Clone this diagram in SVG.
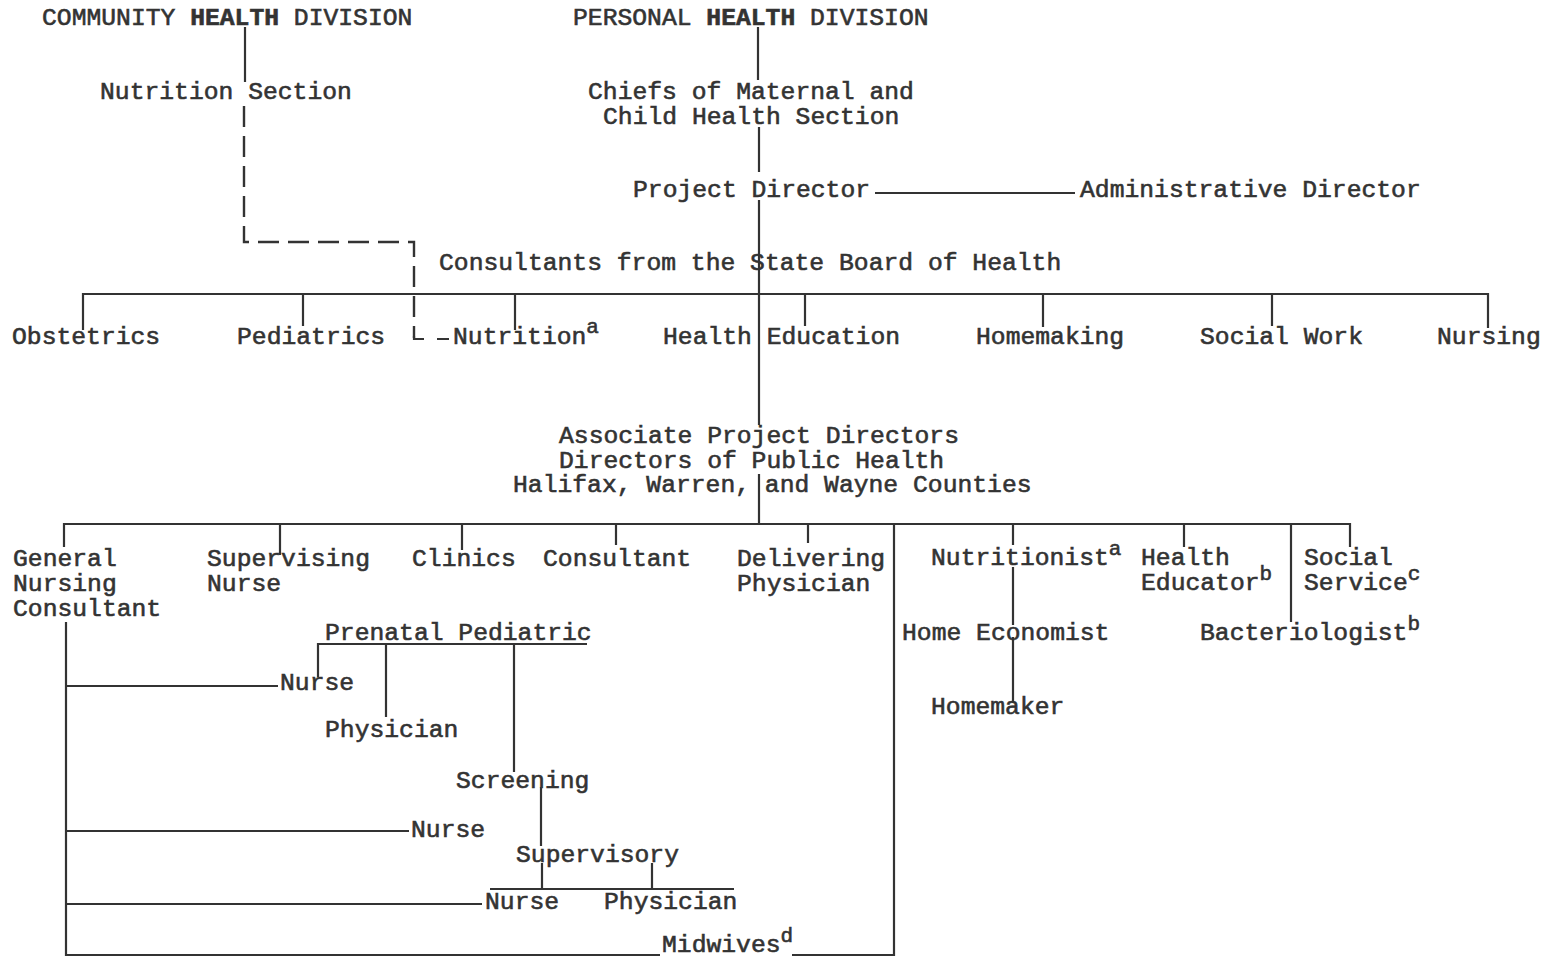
<svg xmlns="http://www.w3.org/2000/svg" width="1549" height="958" viewBox="0 0 1549 958">
<style>
.t{font-family:"Liberation Mono","Courier New",monospace;font-size:24.7px;fill:#333;stroke:#333;stroke-width:0.6}
.b{font-weight:bold}
.s{font-size:21px}
.c{stroke:#333;stroke-width:2.2;fill:none}
.d{stroke:#333;stroke-width:2.4;fill:none;stroke-dasharray:21 9}
</style>
<rect width="1549" height="958" fill="#fff"/>
<g id="connectors">
<path class="c" d="M245,27V82"/>
<path class="d" d="M244,106V242H414V338"/>
<path class="c" d="M414,336V339H424M437,339H449"/>
<path class="c" d="M758,27V80M759,127V172M759,200V425M759,474V524M875,193H1075"/>
<path class="c" d="M83,330V294H1488V328M303,294V326M515,294V330M805,294V326M1043,294V327M1272,294V326"/>
<path class="c" d="M64,547V524H1350V547M280,524V555M462,524V550M616,524V545M808,524V543M1013,524V545M1184,524V547M1291,524V622"/>
<path class="c" d="M894,524V955H792M660,955H66V622"/>
<path class="c" d="M1013,567V625M1013,637V703"/>
<path class="c" d="M66,686H278M66,831H409M66,904H482"/>
<path class="c" d="M318,677V644H587M386,644V717M514,644V772M541,787V846M542,863V889M652,863V889M490,889H734"/>
</g>
<g id="community-health-division"><text class="t" x="42" y="25">COMMUNITY <tspan class="b">HEALTH</tspan> DIVISION</text></g>
<g id="nutrition-section"><text class="t" x="100" y="99">Nutrition Section</text></g>
<g id="personal-health-division"><text class="t" x="573" y="25">PERSONAL <tspan class="b">HEALTH</tspan> DIVISION</text></g>
<g id="chiefs"><text class="t" x="588" y="99">Chiefs of Maternal and</text><text class="t" x="603" y="124">Child Health Section</text></g>
<g id="project-director"><text class="t" x="633" y="197">Project Director</text></g>
<g id="administrative-director"><text class="t" x="1080" y="197">Administrative Director</text></g>
<g id="consultants"><text class="t" x="439" y="270">Consultants from the State Board of Health</text></g>
<g id="obstetrics"><text class="t" x="12" y="344">Obstetrics</text></g>
<g id="pediatrics"><text class="t" x="237" y="344">Pediatrics</text></g>
<g id="nutrition"><text class="t" x="453" y="344">Nutrition<tspan class="s" dy="-11">a</tspan></text></g>
<g id="health-education"><text class="t" x="663" y="344">Health Education</text></g>
<g id="homemaking"><text class="t" x="976" y="344">Homemaking</text></g>
<g id="social-work"><text class="t" x="1200" y="344">Social Work</text></g>
<g id="nursing"><text class="t" x="1437" y="344">Nursing</text></g>
<g id="associate-project-directors"><text class="t" x="559" y="443">Associate Project Directors</text><text class="t" x="559" y="468">Directors of Public Health</text><text class="t" x="513" y="492">Halifax, Warren, and Wayne Counties</text></g>
<g id="general-nursing-consultant"><text class="t" x="13" y="566">General</text><text class="t" x="13" y="591">Nursing</text><text class="t" x="13" y="616">Consultant</text></g>
<g id="supervising-nurse"><text class="t" x="207" y="566">Supervising</text><text class="t" x="207" y="591">Nurse</text></g>
<g id="clinics"><text class="t" x="412" y="566">Clinics</text></g>
<g id="consultant"><text class="t" x="543" y="566">Consultant</text></g>
<g id="delivering-physician"><text class="t" x="737" y="566">Delivering</text><text class="t" x="737" y="591">Physician</text></g>
<g id="nutritionist"><text class="t" x="931" y="565">Nutritionist<tspan class="s" dy="-10">a</tspan></text></g>
<g id="health-educator"><text class="t" x="1141" y="565">Health</text><text class="t" x="1141" y="590">Educator<tspan class="s" dy="-10">b</tspan></text></g>
<g id="social-service"><text class="t" x="1304" y="565">Social</text><text class="t" x="1304" y="590">Service<tspan class="s" dy="-10">c</tspan></text></g>
<g id="home-economist"><text class="t" x="902" y="640">Home Economist</text></g>
<g id="bacteriologist"><text class="t" x="1200" y="640">Bacteriologist<tspan class="s" dy="-10">b</tspan></text></g>
<g id="homemaker"><text class="t" x="931" y="714">Homemaker</text></g>
<g id="prenatal-pediatric"><text class="t" x="325" y="640">Prenatal Pediatric</text></g>
<g id="prenatal-nurse"><text class="t" x="280" y="690">Nurse</text></g>
<g id="prenatal-physician"><text class="t" x="325" y="737">Physician</text></g>
<g id="screening"><text class="t" x="456" y="788">Screening</text></g>
<g id="screening-nurse"><text class="t" x="411" y="837">Nurse</text></g>
<g id="supervisory"><text class="t" x="516" y="862">Supervisory</text></g>
<g id="supervisory-nurse"><text class="t" x="485" y="909">Nurse</text></g>
<g id="supervisory-physician"><text class="t" x="604" y="909">Physician</text></g>
<g id="midwives"><text class="t" x="662" y="952">Midwives<tspan class="s" dy="-10">d</tspan></text></g>
</svg>
